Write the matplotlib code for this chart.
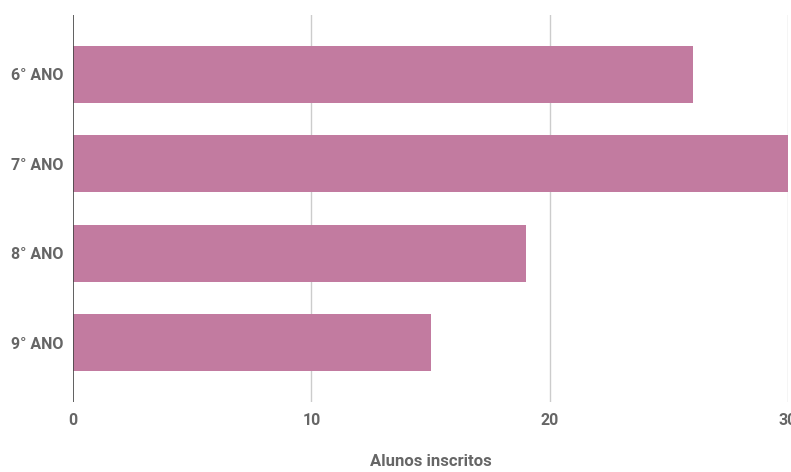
import matplotlib
matplotlib.use("Agg")
import matplotlib.pyplot as plt

categories = ["6° ANO", "7° ANO", "8° ANO", "9° ANO"]
values = [26, 30, 19, 15]
xticks = [0, 10, 20, 30]
xlabel = "Alunos inscritos"

plt.rcParams['font.family'] = ['Roboto', 'DejaVu Sans']

W, H = 791, 472
fig = plt.figure(figsize=(W / 100, H / 100), dpi=100)
ax = fig.add_axes([73 / W, 1 - 402 / H, (788 - 73) / W, (402 - 15) / H])

ypos = list(range(len(categories)))
ax.barh(ypos, values, height=0.64, color="#c27ba0", zorder=3)
ax.set_ylim(len(categories) - 1 + 0.665, -0.665)
ax.set_xlim(0, 30)

ax.set_xticks(xticks)
ax.set_xticklabels([str(t) for t in xticks])
ax.set_yticks(ypos)
ax.set_yticklabels(categories)

for t in xticks[1:]:
    ax.axvline(t, color="#cccccc", linewidth=1, zorder=1)
ax.axvline(0, color="#444444", linewidth=1.2, zorder=4)

for s in ax.spines.values():
    s.set_visible(False)

ax.tick_params(axis="both", length=0, labelsize=11.5, labelcolor="#666666")
ax.tick_params(axis="x", pad=8)
ax.tick_params(axis="y", pad=7)
for lab in ax.get_xticklabels() + ax.get_yticklabels():
    lab.set_fontweight("bold")

ax.set_xlabel(xlabel, fontsize=12, color="#666666", fontweight="bold", labelpad=19)

fig.savefig("out.png", dpi=100)
